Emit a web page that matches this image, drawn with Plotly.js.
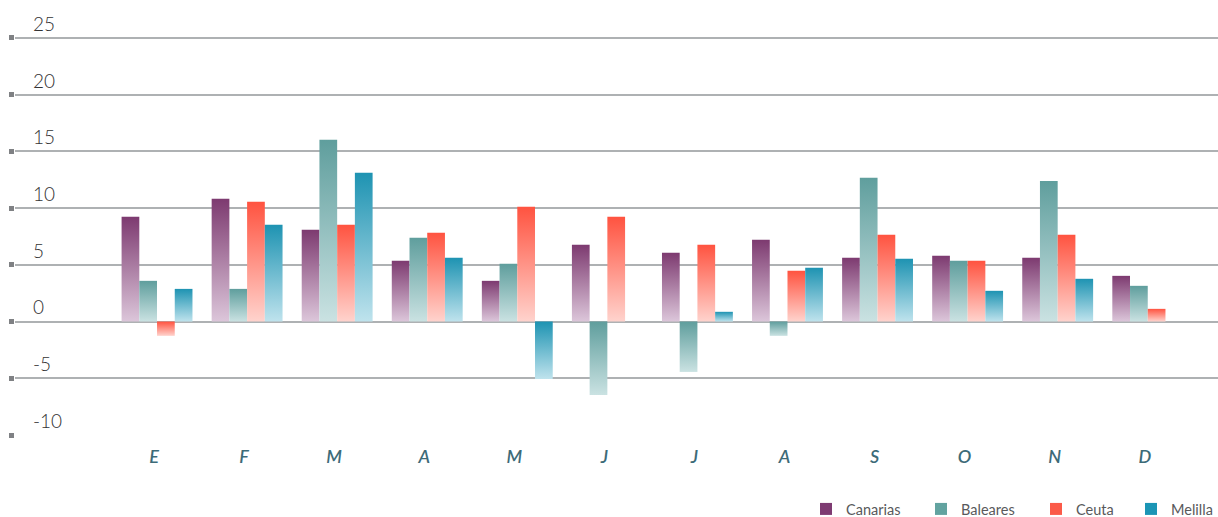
<!DOCTYPE html>
<html>
<head>
<meta charset="utf-8">
<script src="https://cdn.plot.ly/plotly-3.0.1.min.js"></script>
<style>
html,body{margin:0;padding:0;background:#fff;}
#chart{width:1218px;height:517px;}
</style>
</head>
<body>
<div id="chart"></div>
<script>
const months = ['E','F','M','A','M ','J','J ','A ','S','O','N','D'];
const canarias = [9.24, 10.83, 8.09, 5.36, 3.59, 6.77, 6.06, 7.21, 5.62, 5.8, 5.62, 4.03];
const baleares = [3.59, 2.88, 16.03, 7.39, 5.09, -6.47, -4.44, -1.26, 12.68, 5.36, 12.4, 3.15];
const ceuta    = [-1.26, 10.56, 8.53, 7.83, 10.12, 9.24, 6.77, 4.47, 7.65, 5.36, 7.65, 1.12];
const melilla  = [2.88, 8.53, 13.12, 5.62, -5.06, null, 0.86, 4.74, 5.53, 2.71, 3.77, null];
const seriesNames = ['Canarias','Baleares','Ceuta','Melilla'];
const yTicks = [-10,-5,0,5,10,15,20,25];

const solid = ['#7e3b72','#62a3a0','#fb5a48','#1b95b5'];
const grads = [
  ['#7d3a70','#dcc6da'],
  ['#5f9e9d','#cae2e2'],
  ['#ff5340','#ffd3cd'],
  ['#1e93b2','#bfe3ed']
];
const xIdx = months.map((m,i)=>i);
const vals = [canarias, baleares, ceuta, melilla];
const legendIds = ['legend','legend2','legend3','legend4'];

const data = vals.map((v,i)=>({
  type:'bar', name:seriesNames[i], x:xIdx, y:v,
  marker:{color:solid[i], line:{width:0}},
  legend:legendIds[i],
  hoverinfo:'skip'
}));

const legendX = [806, 921, 1036, 1218];
const legendAnchor = ['left','left','left','right'];
const layout = {
  width:1218, height:517,
  margin:{l:15, r:0, t:7, b:81},
  paper_bgcolor:'#fff', plot_bgcolor:'#fff',
  barmode:'group', bargap:0.213, bargroupgap:0,
  font:{family:'Lato, "Open Sans", sans-serif', color:'#333'},
  xaxis:{
    range:[-1.577, 11.78], tickmode:'array', tickvals:xIdx, ticktext:months.map(m=>'<i>'+m.trim()+'</i>'),
    showgrid:false, zeroline:false, showline:false, ticks:'',
    tickfont:{family:'Lato, sans-serif', size:18, color:'#3d6b78', weight:600},
    ticklabelstandoff:8, ticklabelshift:-3, fixedrange:true, automargin:false
  },
  yaxis:{
    range:[-10.088, 27.73], tickmode:'array', tickvals:yTicks, ticktext:yTicks.map(String),
    showgrid:true, gridcolor:'#aeb1b3', gridwidth:2,
    zeroline:true, zerolinecolor:'#aeb1b3', zerolinewidth:2,
    showline:false, ticks:'outside', ticklen:5, tickwidth:5, tickcolor:'#7f8184',
    ticklabelposition:'inside top', ticklabelstandoff:15, ticklabelshift:2,
    tickfont:{family:'Lato, sans-serif', size:19, color:'#333', weight:300},
    fixedrange:true, automargin:false
  },
  showlegend:true
};
legendIds.forEach((id,i)=>{
  layout[id] = {orientation:'h', xref:'container', yref:'container',
    x:legendX[i]/1218, xanchor:legendAnchor[i], y:8/517, yanchor:'middle',
    font:{family:'Lato, sans-serif', size:14.5, color:'#58595b'},
    itemwidth:30, bgcolor:'rgba(0,0,0,0)'};
});

Plotly.newPlot('chart', data, layout, {displayModeBar:false, staticPlot:true}).then(gd=>{
  const svgNS='http://www.w3.org/2000/svg';
  const svg = gd.querySelector('svg.main-svg');
  let defs = svg.querySelector('defs');
  if(!defs){defs=document.createElementNS(svgNS,'defs'); svg.insertBefore(defs, svg.firstChild);}
  grads.forEach((g,i)=>{
    const lg=document.createElementNS(svgNS,'linearGradient');
    lg.setAttribute('id','bargrad'+i);
    lg.setAttribute('x1','0');lg.setAttribute('y1','0');lg.setAttribute('x2','0');lg.setAttribute('y2','1');
    [[0,g[0]],[1,g[1]]].forEach(s=>{
      const st=document.createElementNS(svgNS,'stop');
      st.setAttribute('offset',s[0]); st.setAttribute('stop-color',s[1]);
      lg.appendChild(st);
    });
    defs.appendChild(lg);
  });
  const traces = gd.querySelectorAll('.barlayer .trace');
  traces.forEach((t,i)=>{
    t.querySelectorAll('path').forEach(p=>{ p.style.fill='url(#bargrad'+i+')'; });
  });
});
</script>
</body>
</html>
